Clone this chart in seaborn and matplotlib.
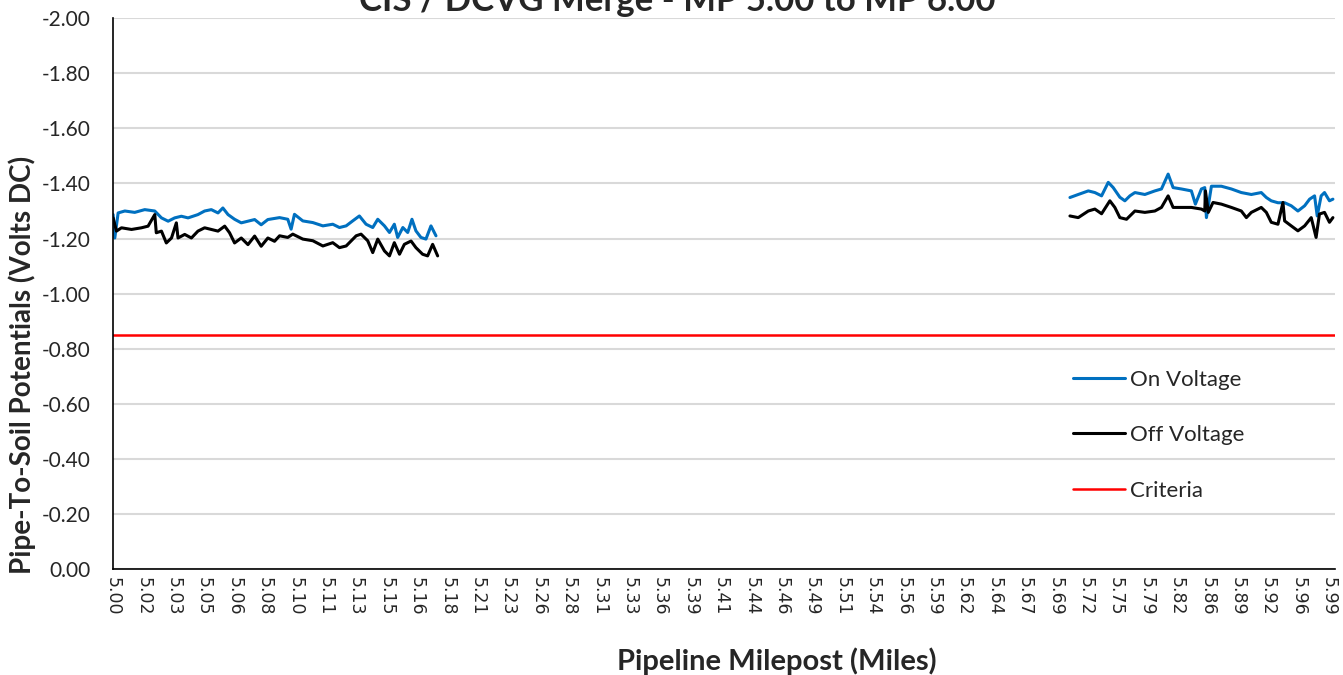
import numpy as np
import pandas as pd
import seaborn as sns
import matplotlib.pyplot as plt

# category labels along the milepost axis
tick_mp = [5.00, 5.02, 5.03, 5.05, 5.06, 5.08, 5.10, 5.11, 5.13, 5.15, 5.16,
           5.18, 5.21, 5.23, 5.26, 5.28, 5.31, 5.33, 5.36, 5.39, 5.41, 5.44,
           5.46, 5.49, 5.51, 5.54, 5.56, 5.59, 5.62, 5.64, 5.67, 5.69, 5.72,
           5.75, 5.79, 5.82, 5.86, 5.89, 5.92, 5.96, 5.99]

# survey section 1 (MP 5.00 - 5.17)
on1_mp = [5.0002, 5.0013, 5.0035, 5.0079, 5.0144, 5.0205, 5.0238, 5.0260, 5.0282,
          5.0307, 5.0351, 5.0395, 5.0460, 5.0502, 5.0524, 5.0546, 5.0562, 5.0579,
          5.0601, 5.0645, 5.0689, 5.0733, 5.0776, 5.0820, 5.0897, 5.0951, 5.0973,
          5.0995, 5.1025, 5.1058, 5.1091, 5.1147, 5.1191, 5.1235, 5.1278, 5.1322,
          5.1366, 5.1410, 5.1443, 5.1487, 5.1510, 5.1526, 5.1537, 5.1554, 5.1570,
          5.1584, 5.1597, 5.1627, 5.1660, 5.1693, 5.1726]
on1_v = [-1.287, -1.202, -1.293, -1.300, -1.295, -1.305, -1.300, -1.275, -1.263,
         -1.275, -1.281, -1.275, -1.287, -1.300, -1.305, -1.293, -1.311, -1.287,
         -1.270, -1.257, -1.263, -1.269, -1.250, -1.269, -1.276, -1.270, -1.234,
         -1.288, -1.264, -1.258, -1.246, -1.252, -1.240, -1.246, -1.264, -1.282,
         -1.252, -1.240, -1.270, -1.246, -1.222, -1.252, -1.204, -1.240, -1.222,
         -1.270, -1.228, -1.204, -1.198, -1.246, -1.210]

off1_mp = [5.0002, 5.0024, 5.0057, 5.0123, 5.0188, 5.0216, 5.0238, 5.0243, 5.0260,
           5.0276, 5.0293, 5.0318, 5.0329, 5.0373, 5.0417, 5.0460, 5.0502, 5.0524,
           5.0546, 5.0568, 5.0584, 5.0601, 5.0645, 5.0689, 5.0733, 5.0776, 5.0820,
           5.0864, 5.0897, 5.0951, 5.0984, 5.1025, 5.1058, 5.1091, 5.1147, 5.1191,
           5.1235, 5.1301, 5.1333, 5.1377, 5.1410, 5.1443, 5.1487, 5.1510, 5.1526,
           5.1543, 5.1559, 5.1581, 5.1597, 5.1638, 5.1671, 5.1704, 5.1737]
off1_v = [-1.275, -1.227, -1.239, -1.233, -1.239, -1.245, -1.287, -1.221, -1.227,
          -1.184, -1.202, -1.257, -1.202, -1.215, -1.202, -1.227, -1.239, -1.233,
          -1.227, -1.245, -1.221, -1.184, -1.202, -1.178, -1.209, -1.172, -1.202,
          -1.190, -1.210, -1.204, -1.216, -1.198, -1.192, -1.173, -1.185, -1.167,
          -1.173, -1.210, -1.216, -1.192, -1.149, -1.198, -1.155, -1.137, -1.185,
          -1.143, -1.179, -1.191, -1.167, -1.143, -1.137, -1.179, -1.137]

# survey section 2 (MP 5.70 - 6.00)
on2_mp = [5.7045, 5.7127, 5.7226, 5.7291, 5.7357, 5.7423, 5.7472, 5.7550, 5.7616,
          5.7682, 5.7748, 5.7879, 5.7983, 5.8048, 5.8114, 5.8163, 5.8260, 5.8391,
          5.8444, 5.8523, 5.8567, 5.8589, 5.8641, 5.8739, 5.8838, 5.8936, 5.9035,
          5.9133, 5.9183, 5.9242, 5.9330, 5.9418, 5.9505, 5.9593, 5.9661, 5.9710,
          5.9759, 5.9785, 5.9824, 5.9857, 5.9906, 5.9940]
on2_v = [-1.349, -1.360, -1.373, -1.367, -1.355, -1.404, -1.385, -1.350, -1.337,
         -1.355, -1.367, -1.360, -1.373, -1.380, -1.434, -1.385, -1.380, -1.373,
         -1.325, -1.380, -1.385, -1.276, -1.390, -1.390, -1.380, -1.367, -1.360,
         -1.367, -1.349, -1.337, -1.330, -1.330, -1.319, -1.300, -1.319, -1.343,
         -1.355, -1.282, -1.355, -1.367, -1.337, -1.343]

off2_mp = [5.7045, 5.7127, 5.7226, 5.7291, 5.7357, 5.7439, 5.7488, 5.7550, 5.7638,
           5.7748, 5.7879, 5.7983, 5.8048, 5.8114, 5.8163, 5.8260, 5.8391, 5.8523,
           5.8567, 5.8576, 5.8610, 5.8657, 5.8739, 5.8838, 5.8936, 5.8986, 5.9035,
           5.9133, 5.9183, 5.9242, 5.9330, 5.9396, 5.9418, 5.9505, 5.9593, 5.9661,
           5.9726, 5.9774, 5.9807, 5.9857, 5.9906, 5.9940]
off2_v = [-1.282, -1.276, -1.300, -1.307, -1.290, -1.337, -1.313, -1.276, -1.270,
          -1.300, -1.295, -1.300, -1.313, -1.355, -1.313, -1.313, -1.313, -1.307,
          -1.300, -1.373, -1.295, -1.331, -1.325, -1.313, -1.300, -1.276, -1.295,
          -1.313, -1.295, -1.259, -1.252, -1.331, -1.264, -1.246, -1.228, -1.246,
          -1.276, -1.204, -1.289, -1.295, -1.259, -1.276]

criteria = -0.85

# category axis: milepost -> label slot
slot_mp = tick_mp + [6.00]
slot_idx = list(range(len(tick_mp))) + [len(tick_mp) - 1 + 1 / 3]


def slot(mp):
    return np.interp(mp, slot_mp, slot_idx)


sns.set_style("white")
plt.rcParams['font.family'] = ['Lato', 'DejaVu Sans']
plt.rcParams['axes.unicode_minus'] = False

fig = plt.figure(figsize=(13.43, 6.75), dpi=100)
ax = fig.add_axes([0.084, 0.157, 0.91, 0.816])

blue = '#0070C0'
for mp, v, col, lab in [(on1_mp, on1_v, blue, 'On Voltage'), (on2_mp, on2_v, blue, None),
                        (off1_mp, off1_v, 'black', 'Off Voltage'), (off2_mp, off2_v, 'black', None)]:
    d = pd.DataFrame({'pos': slot(mp), 'v': v})
    sns.lineplot(data=d, x='pos', y='v', color=col, linewidth=2.2, label=lab,
                 estimator=None, ax=ax)

ax.axhline(criteria, color='#FF0000', linewidth=1.8, label='Criteria')

ax.set_xlim(0, 40.2)
ax.set_ylim(0, -2)
ax.set_yticks(np.arange(0, -2.01, -0.2))
ax.set_yticklabels([f"{t:.2f}" for t in np.arange(0, -2.01, -0.2)], fontsize=15)
ax.set_xticks(range(len(tick_mp)))
ax.set_xticklabels([f"{t:.2f}" for t in tick_mp], rotation=270, fontsize=12.5,
                   family='DejaVu Sans')
ax.tick_params(axis='x', length=0, pad=6)
ax.tick_params(axis='y', length=0, pad=16)
ax.yaxis.grid(True, color='#d9d9d9', linewidth=1.5)
ax.set_axisbelow(True)
for s in ['top', 'right']:
    ax.spines[s].set_visible(False)
for s in ['left', 'bottom']:
    ax.spines[s].set_color('black')
    ax.spines[s].set_linewidth(1.2)

ax.set_xlabel('Pipeline Milepost (Miles)', fontsize=21, fontweight='bold')
ax.xaxis.set_label_coords(0.543, -0.143)
ax.set_ylabel('Pipe-To-Soil Potentials (Volts DC)', fontsize=20, fontweight='bold')
ax.yaxis.set_label_coords(-0.063, 0.37)
fig.text(0.504, 0.999, 'CIS / DCVG Merge - MP 5.00 to MP 6.00', ha='center', va='center',
         fontsize=25, fontweight='bold')

ax.legend(loc='center left', bbox_to_anchor=(0.7856, 0.243), frameon=False, fontsize=16,
          labelspacing=1.6, handlelength=2.35, handletextpad=0.2, borderpad=0,
          borderaxespad=0)

fig.savefig('out.png', dpi=100)
